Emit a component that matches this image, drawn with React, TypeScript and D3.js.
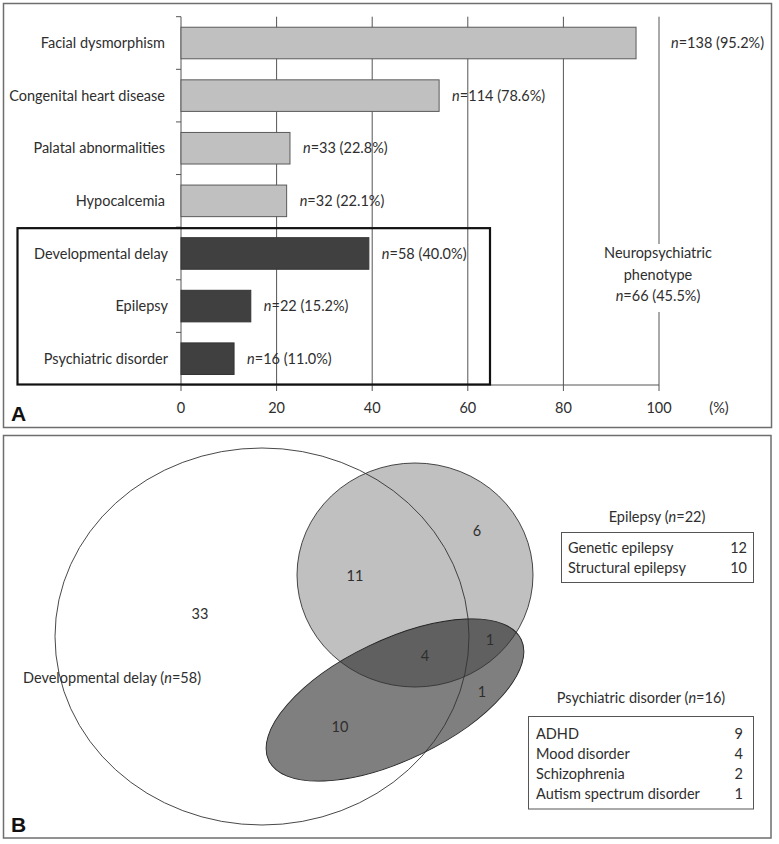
import React from "react";
import * as d3 from "d3";

const categories = [
  "Facial dysmorphism",
  "Congenital heart disease",
  "Palatal abnormalities",
  "Hypocalcemia",
  "Developmental delay",
  "Epilepsy",
  "Psychiatric disorder",
];
const counts = [138, 114, 33, 32, 58, 22, 16];
const percents = [95.2, 78.6, 22.8, 22.1, 40.0, 15.2, 11.0];
// bar lengths as drawn in the picture (%)
const barLengths = [95.2, 54.0, 22.8, 22.1, 39.3, 14.6, 11.1];
const isNeuro = [false, false, false, false, true, true, true];
const xTicks = [0, 20, 40, 60, 80, 100];
const neuroCount = 66;
const neuroPercent = 45.5;

// Venn region counts
const vennDDOnly = 33;
const vennDDEpi = 11;
const vennEpiOnly = 6;
const vennAll = 4;
const vennEpiPsy = 1;
const vennPsyOnly = 1;
const vennDDPsy = 10;
const ddTotal = 58;
const epiTotal = 22;
const psyTotal = 16;

const epiTypes = ["Genetic epilepsy", "Structural epilepsy"];
const epiTypeCounts = [12, 10];
const psyTypes = ["ADHD", "Mood disorder", "Schizophrenia", "Autism spectrum disorder"];
const psyTypeCounts = [9, 4, 2, 1];

const FONT = "Lato, 'Noto Sans', sans-serif";
const TXT = "#2e2e2e";
const FS = 14.5;

const NLabel = ({ x, y, n, pct, anchor = "start" }: any) => (
  <text x={x} y={y} dy="0.36em" textAnchor={anchor} fontSize={FS} fill={TXT}>
    <tspan fontStyle="italic">n</tspan>={n} ({pct.toFixed(1)}%)
  </text>
);

export default function App() {
  const W = 779;
  const H = 844;
  const x = d3.scaleLinear().domain([0, 100]).range([181, 659]);
  const y = d3.scaleBand().domain(categories).range([16.7, 385]).paddingInner(0);
  const bw = y.bandwidth();
  const axisY = 385;
  const boundaries = categories.map((c) => y(c) as number).concat([axisY]);

  return (
    <svg
      width={W}
      height={H}
      style={{ position: "absolute", left: 0, top: 0, fontFamily: FONT }}
    >
      <rect x={0} y={0} width={W} height={H} fill="#fff" />
      {/* Panel A */}
      <rect x={3.5} y={3.5} width={768} height={424} fill="none" stroke="#6e6e6e" strokeWidth={1.5} />
      {/* gridlines */}
      {xTicks.slice(1).map((t) => (
        <line key={"g" + t} x1={x(t)} x2={x(t)} y1={16.7} y2={axisY + 6} stroke="#555" strokeWidth={1} />
      ))}
      {/* x axis */}
      <line x1={x(0)} x2={x(100)} y1={axisY} y2={axisY} stroke="#555" strokeWidth={1} />
      <line x1={x(0)} x2={x(0)} y1={16.7} y2={axisY + 6} stroke="#555" strokeWidth={1} />
      {boundaries.slice(0, -1).map((b, i) => (
        <line key={"yt" + i} x1={x(0) - 5} x2={x(0)} y1={b} y2={b} stroke="#555" strokeWidth={1} />
      ))}
      {xTicks.map((t) => (
        <text key={"xl" + t} x={x(t)} y={408} dy="0.36em" textAnchor="middle" fontSize={FS} fill={TXT}>
          {t}
        </text>
      ))}
      <text x={719} y={408} dy="0.36em" textAnchor="middle" fontSize={FS} fill={TXT}>
        (%)
      </text>
      {/* Neuropsychiatric label */}
      <rect x={x(100) - 46} y={244} width={92} height={68} fill="#fff" />
      <text x={x(100) - 1} y={253} dy="0.36em" textAnchor="middle" fontSize={FS} fill={TXT}>
        Neuropsychiatric
      </text>
      <text x={x(100) - 1} y={275} dy="0.36em" textAnchor="middle" fontSize={FS} fill={TXT}>
        phenotype
      </text>
      <NLabel x={x(100) - 1} y={296} n={neuroCount} pct={neuroPercent} anchor="middle" />
      {/* bars */}
      {categories.map((c, i) => {
        const y0 = (y(c) as number) + bw * 0.2;
        const h = bw * 0.6;
        const endX = x(barLengths[i]);
        const lx = barLengths[i] > 90 ? x(100) + 12 : endX + 13;
        return (
          <g key={c}>
            <rect
              x={x(0)}
              y={y0}
              width={endX - x(0)}
              height={h}
              fill={isNeuro[i] ? "#404040" : "#c0c0c0"}
              stroke={isNeuro[i] ? "#333" : "#5a5a5a"}
              strokeWidth={1}
            />
            <text
              x={isNeuro[i] ? 168 : 165}
              y={y0 + h / 2}
              dy="0.36em"
              textAnchor="end"
              fontSize={FS}
              fill={TXT}
            >
              {c}
            </text>
            <NLabel x={lx} y={y0 + h / 2} n={counts[i]} pct={percents[i]} />
          </g>
        );
      })}
      {/* neuro box */}
      <rect
        x={17.5}
        y={(y(categories[4]) as number) + 1}
        width={472.5}
        height={axisY - (y(categories[4]) as number) - 1.5}
        fill="none"
        stroke="#111"
        strokeWidth={2.2}
      />
      <text x={11} y={421} fontSize={21} fontWeight="bold" fill="#111" fontFamily="'Liberation Sans', Arial, sans-serif">
        A
      </text>

      {/* Panel B */}
      <rect x={3.5} y={435.5} width={767.5} height={402.5} fill="none" stroke="#6e6e6e" strokeWidth={1.5} />
      {/* fills */}
      <ellipse cx={262} cy={636.5} rx={207} ry={188.5} fill="#fff" />
      <ellipse cx={415} cy={575} rx={118} ry={112} fill="#c0c0c0" />
      <ellipse
        cx={0}
        cy={0}
        rx={140}
        ry={60}
        transform="translate(395,700) rotate(-25.6)"
        fill="#000"
        fillOpacity={0.5}
      />
      {/* outlines */}
      <ellipse cx={262} cy={636.5} rx={207} ry={188.5} fill="none" stroke="#333" strokeWidth={0.9} />
      <ellipse cx={415} cy={575} rx={118} ry={112} fill="none" stroke="#333" strokeWidth={0.9} />
      <ellipse
        cx={0}
        cy={0}
        rx={140}
        ry={60}
        transform="translate(395,700) rotate(-25.6)"
        fill="none"
        stroke="#222"
        strokeWidth={0.9}
      />
      {[
        [vennDDOnly, 200, 614],
        [vennDDEpi, 355, 576],
        [vennEpiOnly, 477, 531],
        [vennAll, 425, 656],
        [vennEpiPsy, 490, 640],
        [vennPsyOnly, 482, 692],
        [vennDDPsy, 340, 727],
      ].map(([v, vx, vy], i) => (
        <text key={"vn" + i} x={vx} y={vy} dy="0.36em" textAnchor="middle" fontSize={FS} fill={TXT}>
          {v}
        </text>
      ))}
      <text x={23} y={678} dy="0.36em" fontSize={FS} fill={TXT}>
        Developmental delay (<tspan fontStyle="italic">n</tspan>={ddTotal})
      </text>
      {/* Epilepsy legend */}
      <text x={657} y={517} dy="0.36em" textAnchor="middle" fontSize={FS} fill={TXT}>
        Epilepsy (<tspan fontStyle="italic">n</tspan>={epiTotal})
      </text>
      <rect x={561.5} y={532.5} width={192} height={50} fill="#fff" stroke="#555" strokeWidth={1} />
      {epiTypes.map((t, i) => (
        <g key={t}>
          <text x={568} y={548 + i * 20} dy="0.36em" fontSize={FS} fill={TXT}>
            {t}
          </text>
          <text x={747} y={548 + i * 20} dy="0.36em" textAnchor="end" fontSize={FS} fill={TXT}>
            {epiTypeCounts[i]}
          </text>
        </g>
      ))}
      {/* Psychiatric legend */}
      <text x={641} y={698} dy="0.36em" textAnchor="middle" fontSize={FS} fill={TXT}>
        Psychiatric disorder (<tspan fontStyle="italic">n</tspan>={psyTotal})
      </text>
      <rect x={528.5} y={716.5} width={225} height={92.5} fill="#fff" stroke="#555" strokeWidth={1} />
      {psyTypes.map((t, i) => (
        <g key={t}>
          <text x={536} y={733.5 + i * 20} dy="0.36em" fontSize={FS} fill={TXT}>
            {t}
          </text>
          <text x={743} y={733.5 + i * 20} dy="0.36em" textAnchor="end" fontSize={FS} fill={TXT}>
            {psyTypeCounts[i]}
          </text>
        </g>
      ))}
      <text x={11} y={832} fontSize={21} fontWeight="bold" fill="#111" fontFamily="'Liberation Sans', Arial, sans-serif">
        B
      </text>
    </svg>
  );
}
